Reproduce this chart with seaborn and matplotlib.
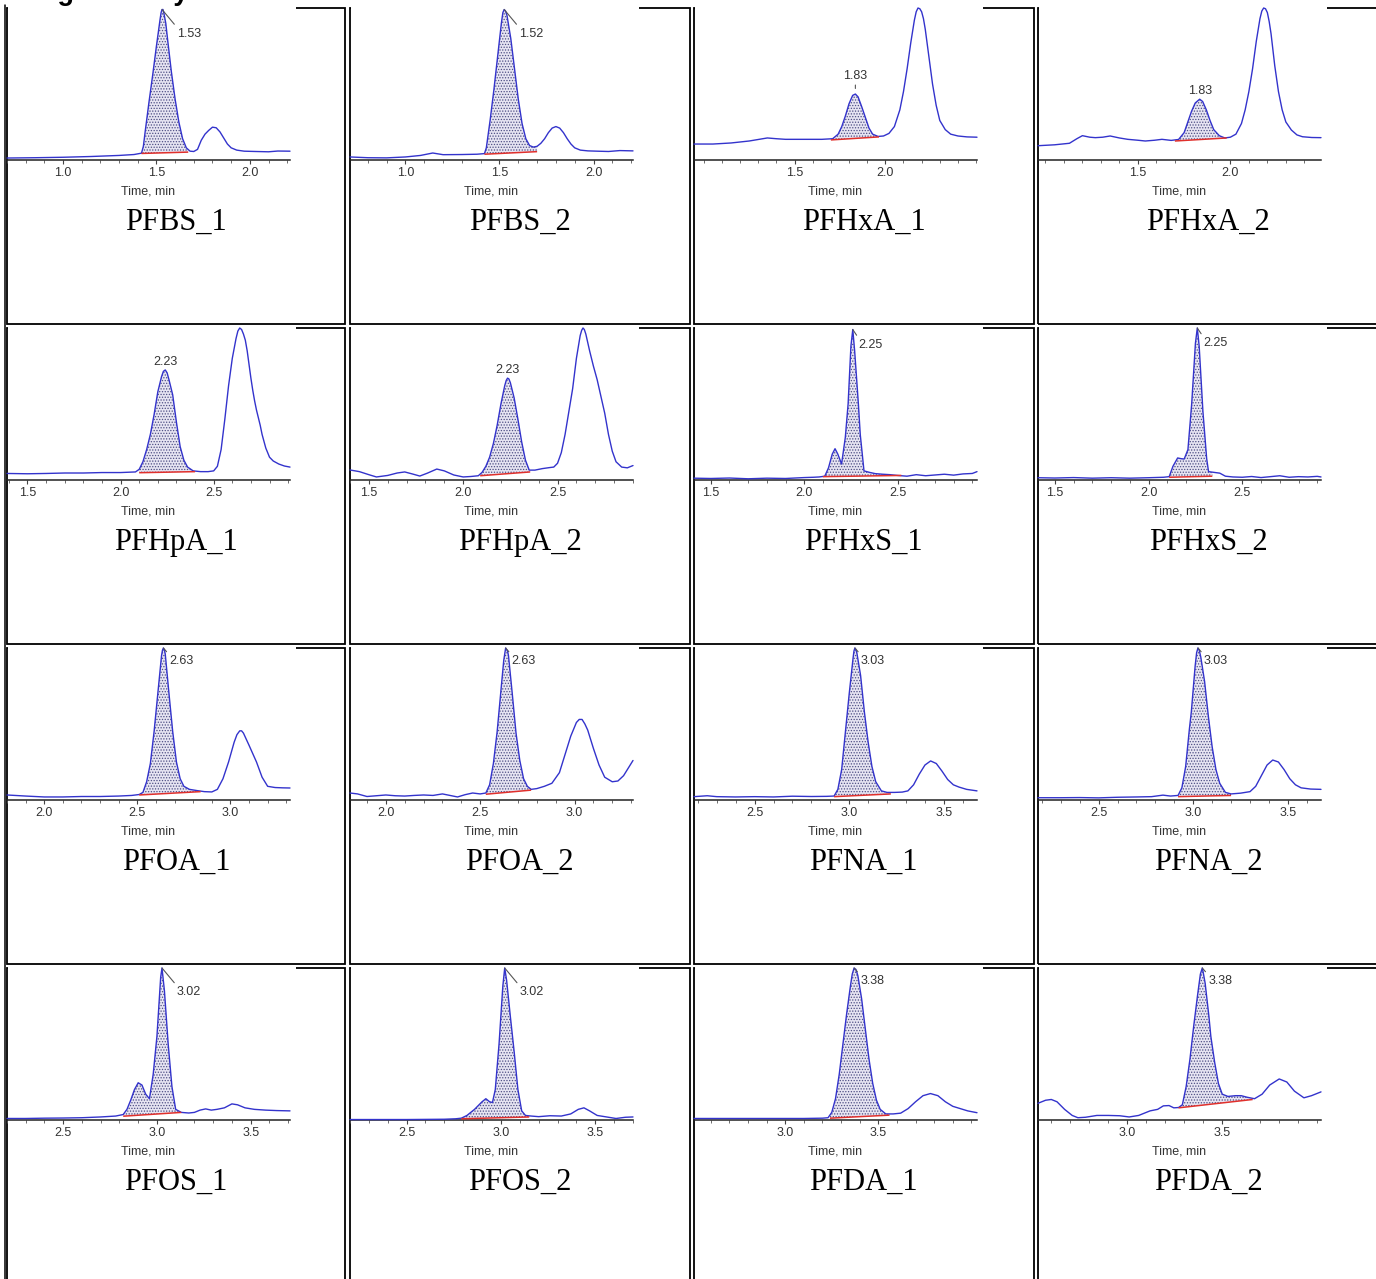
import numpy as np
import pandas as pd
import matplotlib
matplotlib.use("Agg")
import matplotlib.pyplot as plt
import seaborn as sns
from matplotlib.patches import Rectangle
from matplotlib.lines import Line2D
from matplotlib.ticker import FixedLocator, MultipleLocator, FormatStrFormatter

# ---------------- data (time [min], relative intensity [%]) ----------------
pfbs_1 = [(0.70,1.3),(0.85,1.5),(1.00,1.8),(1.15,2.3),(1.30,3.0),(1.38,3.6),(1.42,4.5),(1.43,9),(1.44,19),(1.46,38),(1.48,56),(1.50,75),(1.52,93),(1.525,97),(1.53,99),(1.535,99),(1.54,96.5),(1.55,90),(1.56,79),(1.58,58),(1.60,40),(1.62,25),(1.64,14),(1.66,8),(1.68,5.8),(1.70,5.6),(1.72,7),(1.74,13),(1.76,17),(1.78,19.5),(1.80,21.6),(1.82,21.2),(1.84,18.5),(1.86,14.5),(1.88,10.5),(1.90,8),(1.93,6.5),(1.97,5.8),(2.03,5.6),(2.10,5.4),(2.15,5.9),(2.215,5.8)]
pfbs_2 = [(0.705,2.0),(0.80,1.5),(0.90,1.4),(1.00,2.0),(1.08,3.0),(1.145,4.6),(1.20,3.5),(1.30,3.6),(1.38,3.8),(1.42,4.2),(1.43,8),(1.45,26),(1.47,46),(1.49,68),(1.51,90),(1.518,97),(1.525,99),(1.532,98),(1.54,95),(1.56,80),(1.58,60),(1.60,40),(1.62,24),(1.64,14),(1.66,9.5),(1.68,8.5),(1.70,9),(1.72,11),(1.74,14),(1.76,18),(1.78,21),(1.80,22),(1.82,21),(1.84,18),(1.86,14),(1.88,10.5),(1.90,8),(1.93,6.5),(1.97,6),(2.02,5.8),(2.08,5.6),(2.14,6.2),(2.21,6.0)]
pfhxa_1 = [(0.946,10.5),(1.05,10.5),(1.15,11.2),(1.25,12.5),(1.30,13.5),(1.35,14.5),(1.40,14.0),(1.45,13.6),(1.55,13.6),(1.65,13.6),(1.71,14.0),(1.74,17),(1.76,22),(1.78,29),(1.80,37),(1.82,42.5),(1.835,43.4),(1.85,41.5),(1.87,35),(1.89,28),(1.91,21),(1.93,17),(1.96,15.5),(1.99,15.8),(2.02,17.5),(2.05,22),(2.08,33),(2.10,45),(2.12,60),(2.14,77),(2.16,92),(2.17,97.5),(2.18,100),(2.19,99.5),(2.20,97.5),(2.21,93),(2.22,86),(2.24,68),(2.26,50),(2.28,36),(2.30,26),(2.33,20),(2.36,17),(2.40,15.8),(2.45,15.2),(2.505,15.0)]
pfhxa_2 = [(0.96,9.4),(1.05,10),(1.13,11),(1.17,14),(1.20,16),(1.24,15),(1.27,14.7),(1.31,15),(1.35,15.8),(1.40,14.5),(1.445,13.6),(1.50,13),(1.54,12.5),(1.59,13),(1.63,13.6),(1.68,12.9),(1.72,13.5),(1.75,18),(1.77,25),(1.79,32),(1.81,37.5),(1.834,40),(1.85,38.5),(1.87,33),(1.89,26),(1.91,20),(1.94,16),(1.97,14.5),(2.00,15),(2.03,17),(2.06,24),(2.08,33),(2.10,45),(2.12,60),(2.14,78),(2.16,93),(2.17,98),(2.18,100),(2.19,99.5),(2.20,97),(2.21,91),(2.22,83),(2.24,62),(2.26,45),(2.28,33),(2.30,25),(2.33,19.7),(2.36,16.5),(2.39,15.3),(2.44,14.8),(2.49,14.7)]
pfhpa_1 = [(1.39,4.3),(1.50,4.1),(1.60,4.3),(1.70,4.6),(1.80,4.6),(1.90,4.9),(2.00,4.9),(2.08,5.3),(2.10,7),(2.12,12),(2.14,20),(2.16,30),(2.18,43),(2.20,58),(2.22,68),(2.23,71.5),(2.24,72.4),(2.25,70.5),(2.26,66),(2.28,56),(2.30,38),(2.32,22),(2.34,13),(2.36,8.5),(2.39,6),(2.43,5.5),(2.47,5.5),(2.50,6),(2.52,9),(2.54,20),(2.56,40),(2.58,62),(2.60,80),(2.62,93),(2.63,98),(2.64,100),(2.65,99),(2.66,96),(2.67,92),(2.68,85),(2.69,76),(2.70,67),(2.71,59),(2.72,52),(2.73,46),(2.74,41),(2.75,36),(2.76,30),(2.78,21),(2.80,15),(2.82,12.5),(2.85,10.5),(2.88,9.2),(2.91,8.5)]
pfhpa_2 = [(1.40,6.6),(1.45,5.5),(1.50,3.5),(1.54,2.0),(1.60,3.0),(1.65,4.6),(1.69,5.3),(1.73,4.0),(1.77,2.6),(1.81,4.5),(1.86,7.2),(1.90,6.0),(1.95,3.3),(2.00,2.0),(2.04,2.3),(2.08,2.8),(2.10,5),(2.12,9),(2.14,15),(2.16,24),(2.18,36),(2.20,50),(2.22,62),(2.228,65.5),(2.235,67),(2.242,66.5),(2.25,64),(2.27,54),(2.29,40),(2.31,25),(2.33,13),(2.35,6.5),(2.38,6.5),(2.42,7.5),(2.46,8.2),(2.48,8.5),(2.50,11),(2.52,18),(2.54,30),(2.56,45),(2.58,60),(2.60,80),(2.62,95),(2.628,98.5),(2.635,100),(2.642,99),(2.65,96),(2.67,85),(2.69,75),(2.71,66),(2.73,55),(2.75,44),(2.77,30),(2.79,19),(2.81,12),(2.84,8.5),(2.87,8.0),(2.90,9.5)]
pfhxs_1 = [(1.41,1.2),(1.50,1.0),(1.60,1.3),(1.70,0.8),(1.80,1.2),(1.90,1.0),(2.00,1.6),(2.05,1.8),(2.08,2.0),(2.11,2.5),(2.13,8),(2.15,17),(2.165,20.6),(2.18,17),(2.20,10.5),(2.22,28),(2.235,50),(2.25,88),(2.26,99),(2.27,85),(2.29,50),(2.30,30),(2.32,6),(2.35,5),(2.38,4.2),(2.42,3.8),(2.46,3.5),(2.50,3.0),(2.55,2.5),(2.60,3.5),(2.65,2.8),(2.70,3.3),(2.75,3.8),(2.80,3.2),(2.85,4.0),(2.90,4.3),(2.925,5.5)]
pfhxs_2 = [(1.41,1.5),(1.50,1.3),(1.60,1.6),(1.70,1.2),(1.80,1.5),(1.90,1.2),(2.00,1.5),(2.08,1.8),(2.11,2.2),(2.13,9),(2.155,14.5),(2.175,14),(2.19,13.8),(2.21,20),(2.23,50),(2.25,90),(2.26,100),(2.27,88),(2.29,45),(2.31,14),(2.32,5.5),(2.35,5),(2.38,4.5),(2.41,2.5),(2.45,2.0),(2.50,1.8),(2.55,2.3),(2.60,1.6),(2.65,2.2),(2.70,2.8),(2.75,1.8),(2.80,2.2),(2.85,2.0),(2.90,2.4),(2.92,2.0)]
pfoa_1 = [(1.80,3.3),(1.90,2.6),(2.00,2.0),(2.10,2.0),(2.20,2.3),(2.30,2.3),(2.40,2.6),(2.47,3.0),(2.51,3.6),(2.53,5),(2.55,12),(2.57,24),(2.59,45),(2.61,70),(2.63,95),(2.635,98.5),(2.64,100),(2.645,99),(2.65,96),(2.67,70),(2.69,45),(2.71,25),(2.73,14),(2.75,9),(2.78,7),(2.82,6.2),(2.86,5.5),(2.90,5.3),(2.93,7),(2.96,14),(2.99,25),(3.02,38),(3.035,43),(3.05,45.5),(3.06,45.5),(3.07,44),(3.10,36),(3.14,25),(3.17,15),(3.20,9),(3.24,8.2),(3.28,8.0),(3.32,7.9)]
pfoa_2 = [(1.81,4.6),(1.85,4.0),(1.90,2.3),(1.95,2.8),(2.00,3.3),(2.05,2.8),(2.10,2.6),(2.15,3.0),(2.20,3.3),(2.25,3.0),(2.30,4.0),(2.34,3.0),(2.38,2.0),(2.42,3.5),(2.46,4.6),(2.50,4.0),(2.53,4.6),(2.55,10),(2.57,24),(2.59,45),(2.61,72),(2.625,92),(2.635,100),(2.645,98),(2.65,95),(2.67,70),(2.69,44),(2.71,26),(2.73,14),(2.75,9),(2.77,7),(2.80,7.5),(2.84,9),(2.88,11),(2.92,18),(2.95,30),(2.98,42),(3.01,51),(3.025,53),(3.04,53),(3.055,50),(3.07,46),(3.10,34),(3.13,23),(3.16,15),(3.20,12),(3.23,12.5),(3.26,16),(3.29,22),(3.31,26)]
pfna_1 = [(2.18,2.2),(2.25,2.8),(2.30,2.2),(2.40,2.0),(2.50,2.2),(2.60,2.0),(2.70,2.5),(2.80,2.3),(2.88,2.4),(2.92,2.6),(2.94,7),(2.96,20),(2.98,45),(3.00,70),(3.02,93),(3.025,98),(3.03,100),(3.035,99),(3.04,97),(3.06,82),(3.08,58),(3.10,38),(3.12,22),(3.14,12),(3.17,6),(3.20,5),(3.24,5),(3.28,5.2),(3.31,6),(3.34,10),(3.37,17),(3.40,23),(3.43,25.7),(3.46,24),(3.49,19),(3.52,13.5),(3.55,10),(3.58,8.5),(3.62,7),(3.675,6)]
pfna_2 = [(2.18,1.5),(2.30,1.5),(2.40,1.6),(2.50,1.4),(2.60,1.8),(2.70,2.0),(2.78,2.2),(2.84,3.2),(2.88,2.6),(2.92,3.0),(2.94,8),(2.96,22),(2.98,47),(2.99,58),(3.01,88),(3.018,97),(3.025,100),(3.032,98.5),(3.04,94),(3.06,78),(3.08,55),(3.10,35),(3.12,20),(3.14,11),(3.17,5),(3.20,4),(3.25,4.5),(3.30,5.5),(3.33,9),(3.36,16),(3.39,23),(3.42,26.3),(3.45,25),(3.48,20),(3.51,14),(3.54,10),(3.57,8),(3.62,7.2),(3.675,7)]
pfos_1 = [(2.20,1.0),(2.30,1.0),(2.40,1.2),(2.50,1.3),(2.60,1.5),(2.70,2.0),(2.78,2.6),(2.82,3.6),(2.84,7),(2.86,13),(2.88,20),(2.90,24.5),(2.92,23),(2.94,17),(2.96,14),(2.98,30),(3.00,55),(3.02,94),(3.027,100),(3.04,85),(3.06,50),(3.08,22),(3.10,7),(3.13,5),(3.17,4.6),(3.20,5),(3.23,6.5),(3.26,7.3),(3.29,6.5),(3.32,7),(3.36,8),(3.40,10.6),(3.43,10),(3.47,8),(3.52,7),(3.58,6.5),(3.64,6.2),(3.71,6.0)]
pfos_2 = [(2.20,0.3),(2.30,0.3),(2.40,0.3),(2.50,0.3),(2.60,0.4),(2.70,0.5),(2.76,0.8),(2.79,1.2),(2.82,3),(2.86,7),(2.90,12),(2.92,14),(2.94,12),(2.955,11.5),(2.97,20),(2.99,50),(3.01,88),(3.02,100),(3.03,92),(3.05,68),(3.07,45),(3.09,20),(3.11,6),(3.13,3),(3.16,2.6),(3.20,2.2),(3.26,2.8),(3.32,2.6),(3.37,4),(3.41,7),(3.44,8),(3.47,6),(3.51,3),(3.56,2),(3.61,1),(3.66,1.8),(3.70,2.0)]
pfda_1 = [(2.51,1.0),(2.60,1.0),(2.70,1.0),(2.80,1.0),(2.90,1.0),(3.00,1.0),(3.10,1.0),(3.20,1.2),(3.23,1.5),(3.25,5),(3.27,14),(3.29,30),(3.31,50),(3.33,70),(3.35,88),(3.36,96),(3.37,100),(3.38,99),(3.39,95),(3.41,80),(3.43,60),(3.45,40),(3.47,24),(3.49,13),(3.51,7),(3.54,4),(3.58,4),(3.62,4.5),(3.66,7.5),(3.70,12),(3.74,16),(3.78,17.4),(3.82,16),(3.86,12),(3.90,9),(3.94,7.5),(3.98,6),(4.03,4.8)]
pfda_2 = [(2.53,11),(2.57,13),(2.60,13.5),(2.63,12),(2.67,7),(2.71,3),(2.74,1.5),(2.78,1.8),(2.84,3),(2.90,3),(2.96,2.8),(3.01,2),(3.06,3),(3.12,6),(3.16,7),(3.19,9.3),(3.22,9.5),(3.245,8),(3.27,8.2),(3.29,10),(3.31,22),(3.33,40),(3.35,62),(3.37,82),(3.385,96),(3.395,100),(3.40,97),(3.41,90),(3.43,68),(3.44,55),(3.46,38),(3.48,24),(3.50,17),(3.53,15.5),(3.57,16),(3.60,16),(3.63,15),(3.67,14),(3.71,17),(3.75,23),(3.80,27),(3.84,25),(3.88,19),(3.93,14.6),(3.97,16),(4.02,18.5)]

# integration baselines (red): (start time, start level), (end time, end level)
base_pfbs_1 = [(1.42, 4.3), (1.67, 5.2)]
base_pfbs_2 = [(1.42, 3.8), (1.70, 5.5)]
base_pfhxa_1 = [(1.70, 13.2), (1.965, 15.2)]
base_pfhxa_2 = [(1.70, 12.5), (1.98, 14.5)]
base_pfhpa_1 = [(2.10, 4.8), (2.40, 5.5)]
base_pfhpa_2 = [(2.09, 2.8), (2.355, 5.3)]
base_pfhxs_1 = [(2.10, 2.2), (2.52, 3.0)]
base_pfhxs_2 = [(2.11, 1.8), (2.34, 2.5)]
base_pfoa_1 = [(2.51, 3.3), (2.84, 5.5)]
base_pfoa_2 = [(2.53, 3.8), (2.77, 6.5)]
base_pfna_1 = [(2.92, 2.2), (3.22, 4.0)]
base_pfna_2 = [(2.92, 2.2), (3.20, 3.0)]
base_pfos_1 = [(2.82, 2.5), (3.13, 5.0)]
base_pfos_2 = [(2.79, 0.8), (3.15, 2.0)]
base_pfda_1 = [(3.24, 1.2), (3.56, 3.2)]
base_pfda_2 = [(3.27, 8.0), (3.66, 13.5)]

panel_names = ["PFBS_1", "PFBS_2", "PFHxA_1", "PFHxA_2",
               "PFHpA_1", "PFHpA_2", "PFHxS_1", "PFHxS_2",
               "PFOA_1", "PFOA_2", "PFNA_1", "PFNA_2",
               "PFOS_1", "PFOS_2", "PFDA_1", "PFDA_2"]
peak_labels = ["1.53", "1.52", "1.83", "1.83",
               "2.23", "2.23", "2.25", "2.25",
               "2.63", "2.63", "3.03", "3.03",
               "3.02", "3.02", "3.38", "3.38"]
traces = [pfbs_1, pfbs_2, pfhxa_1, pfhxa_2, pfhpa_1, pfhpa_2, pfhxs_1, pfhxs_2,
          pfoa_1, pfoa_2, pfna_1, pfna_2, pfos_1, pfos_2, pfda_1, pfda_2]
baselines = [base_pfbs_1, base_pfbs_2, base_pfhxa_1, base_pfhxa_2, base_pfhpa_1, base_pfhpa_2,
             base_pfhxs_1, base_pfhxs_2, base_pfoa_1, base_pfoa_2, base_pfna_1, base_pfna_2,
             base_pfos_1, base_pfos_2, base_pfda_1, base_pfda_2]
title_text = "Integration by"

# ---------------- styling / layout ----------------
sns.set_style("white")
plt.rcParams["font.family"] = ["Liberation Sans", "DejaVu Sans"]
plt.rcParams["hatch.linewidth"] = 0.6

W, H = 1376, 1279
fig = plt.figure(figsize=(W / 100, H / 100), dpi=100)
fig.patch.set_facecolor("white")

col_left = [6.5, 349.5, 693.5, 1037.5]
col_right = [345.5, 689.5, 1033.5, 1380.0]
row_top = [7.5, 327.5, 647.5, 967.5]
row_bot = [323.5, 643.5, 963.5, 1286.0]

LINE = "#3333cc"
RED = "#e0302c"
TXT = "#333333"
SMALL = 9

def fr(x, y, w, h):
    return [x / W, 1 - (y + h) / H, w / W, h / H]

ann_style = ["lead", "lead", "above_tick", "above",
             "above", "above", "hook", "hook",
             "hook", "hook", "hook", "hook",
             "lead", "lead", "hook", "hook"]

# table borders
fig.add_artist(Line2D([4.6 / W, 4.6 / W], [1 - 5 / H, 0], transform=fig.transFigure,
                      color="black", lw=1.1, zorder=1))
for r in range(4):
    for c in range(4):
        L, R, T, B = col_left[c], col_right[c], row_top[r], row_bot[r]
        fig.add_artist(Rectangle((L / W, 1 - B / H), (R - L) / W, (B - T) / H,
                                 transform=fig.transFigure, fill=False,
                                 edgecolor="black", lw=1.3, zorder=1))
        fig.add_artist(Rectangle(((L + 1.3) / W, 1 - (T + 195) / H), 288 / W, 197 / H,
                                 transform=fig.transFigure, facecolor="white",
                                 edgecolor="none", zorder=1.5))

for k in range(16):
    r, c = divmod(k, 4)
    L, R, T = col_left[c], col_right[c], row_top[r]
    df = pd.DataFrame(traces[k], columns=["t", "I"])
    lo, hi = df.t.iloc[0], df.t.iloc[-1]
    ax = fig.add_axes(fr(L + 0.5, T + 0.5, 283, 152))
    ax.set_zorder(3)
    ax.set_facecolor("none")

    (t0, i0), (t1, i1) = baselines[k]
    inner = df[(df.t > t0) & (df.t < t1)]
    xs = np.concatenate([[t0], inner.t.values, [t1]])
    top = np.interp(xs, df.t.values, df.I.values)
    bot = np.interp(xs, [t0, t1], [i0, i1])
    ax.fill_between(xs, bot, top, facecolor="#e6e4f2", edgecolor="#4e4e84",
                    hatch="......", linewidth=0, zorder=1)

    sns.lineplot(data=df, x="t", y="I", ax=ax, color=LINE, lw=1.0,
                 estimator=None, sort=False, legend=False, zorder=3)
    for ln in ax.lines:
        ln.set_clip_on(False)
    ax.plot([t0, t1], [i0, i1], color=RED, lw=1.1, zorder=4, solid_capstyle="butt")

    ax.set_xlim(lo, hi)
    ax.set_ylim(0, 100)
    for s in ["top", "left", "right"]:
        ax.spines[s].set_visible(False)
    ax.spines["bottom"].set_color("#222222")
    ax.spines["bottom"].set_linewidth(1.1)
    ax.set_yticks([])
    majors = [v / 2 for v in range(int(np.ceil(lo * 2)), int(np.floor(hi * 2)) + 1)
              if lo + 0.08 < v / 2 < hi - 0.08]
    ax.xaxis.set_major_locator(FixedLocator(majors))
    ax.xaxis.set_minor_locator(MultipleLocator(0.1))
    ax.xaxis.set_major_formatter(FormatStrFormatter("%.1f"))
    ax.tick_params(axis="x", which="major", direction="out", length=3, width=0.8,
                   color="#444444", labelsize=SMALL, labelcolor=TXT, pad=1.8, bottom=True)
    ax.tick_params(axis="x", which="minor", direction="out", length=2, width=0.6,
                   color="#555555", bottom=True)
    ax.set_xlabel("Time, min", fontsize=SMALL, color=TXT, labelpad=5)
    ax.set_ylabel("")

    sub = df[(df.t >= t0) & (df.t <= t1)]
    pk = sub.loc[sub.I.idxmax()]
    kind = ann_style[k]
    lab = peak_labels[k]
    if kind == "lead":
        ax.annotate(lab, xy=(pk.t, pk.I), xytext=(15, -24), textcoords="offset pixels",
                    ha="left", va="center", fontsize=SMALL, color=TXT, zorder=5,
                    arrowprops=dict(arrowstyle="-", color="#555555", lw=0.8,
                                    relpos=(0, 1), shrinkA=0, shrinkB=0))
    elif kind == "hook":
        dy = -15 if lab == "2.25" else -13
        ax.annotate(lab, xy=(pk.t, pk.I), xytext=(6, dy), textcoords="offset pixels",
                    ha="left", va="center", fontsize=SMALL, color=TXT, zorder=5,
                    arrowprops=dict(arrowstyle="-", color="#555555", lw=0.8,
                                    relpos=(0, 1), shrinkA=0, shrinkB=0))
    elif kind == "above_tick":
        ax.annotate(lab, xy=(pk.t, pk.I), xytext=(0, 12), textcoords="offset pixels",
                    ha="center", va="bottom", fontsize=SMALL, color=TXT, zorder=5)
        ax.annotate("", xy=(pk.t, pk.I), xytext=(0, 9), textcoords="offset pixels",
                    arrowprops=dict(arrowstyle="-", color="#555555", lw=0.8,
                                    shrinkA=0, shrinkB=4))
    else:
        ax.annotate(lab, xy=(pk.t, pk.I), xytext=(0, 2), textcoords="offset pixels",
                    ha="center", va="bottom", fontsize=SMALL, color=TXT, zorder=5)

    fig.text(((L + min(R, 1379)) / 2) / W, 1 - (T + 222.5) / H, panel_names[k],
             ha="center", va="baseline", fontsize=22, family="Liberation Serif",
             color="black")

# partially visible heading above the table (cut by the top edge as in the reference)
fig.text(9 / W, 1 - (-0.5) / H, title_text, ha="left", va="baseline",
         fontsize=19.5, fontweight="bold", color="black")

fig.savefig("out.png", dpi=100, facecolor="white")
